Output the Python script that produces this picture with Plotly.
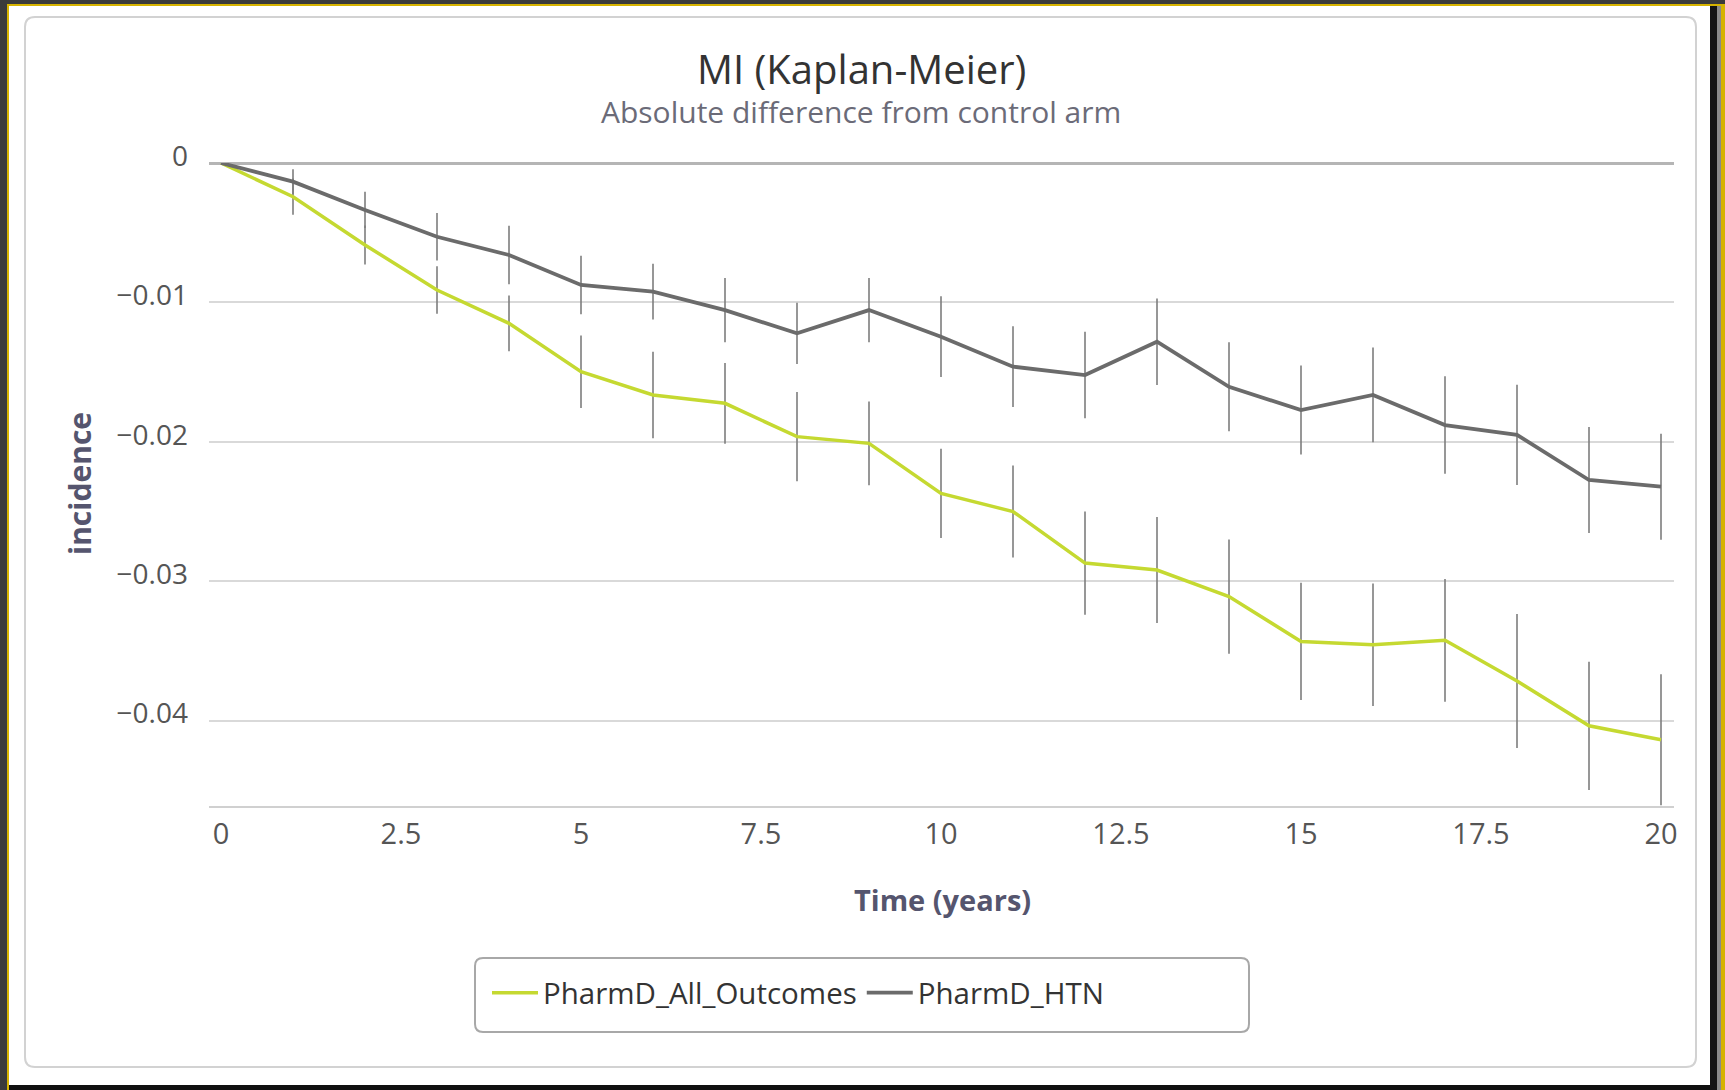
import plotly.graph_objects as go

# ---------------- data ----------------
years = list(range(21))
all_outcomes = [0, -0.00242, -0.00588, -0.00911, -0.0115, -0.01497, -0.01664, -0.01724,
                -0.01963, -0.02011, -0.0237, -0.025, -0.0287, -0.0292, -0.0311, -0.03432,
                -0.03456, -0.03424, -0.03716, -0.04037, -0.04137]
all_outcomes_err = [0, 0.0013, 0.0014, 0.0017, 0.002, 0.0026, 0.0031, 0.0029, 0.0032, 0.003,
                    0.0032, 0.0033, 0.0037, 0.0038, 0.0041, 0.0042, 0.0044, 0.0044, 0.0048,
                    0.0046, 0.0047]
htn = [0, -0.00134, -0.00337, -0.00529, -0.0066, -0.00875, -0.00923, -0.01055, -0.01222,
       -0.01055, -0.01246, -0.01461, -0.01521, -0.01282, -0.01605, -0.01772, -0.01664,
       -0.0188, -0.0195, -0.02274, -0.02322]
htn_err = [0, 0.0009, 0.0013, 0.0017, 0.0021, 0.0021, 0.002, 0.0023, 0.0022, 0.0023, 0.0029,
           0.0029, 0.0031, 0.0031, 0.0032, 0.0032, 0.0034, 0.0035, 0.0036, 0.0038, 0.0038]
series_names = ["PharmD_All_Outcomes", "PharmD_HTN"]
x_tickvals = [0, 2.5, 5, 7.5, 10, 12.5, 15, 17.5, 20]
x_ticktext = ["0", "2.5", "5", "7.5", "10", "12.5", "15", "17.5", "20"]
y_tickvals = [0, -0.01, -0.02, -0.03, -0.04]
y_ticktext = ["0", "\u22120.01", "\u22120.02", "\u22120.03", "\u22120.04"]
title_text = "MI (Kaplan-Meier)"
subtitle_text = "Absolute difference from control arm"
x_title = "Time (years)"
y_title = "incidence"

# ---------------- geometry ----------------
W, H = 1725, 1090
L, R, T, B = 209, 1674, 163, 806   # plot area in pixels
PW, PH = R - L, B - T


def px(x):
    return (x - L) / PW


def py(y):
    return (B - y) / PH


FONT = "Open Sans"
GREEN = "#c5d931"
GREY = "#6b6b6b"
ERR = "#7d7d7d"

fig = go.Figure()
fig.add_trace(go.Scatter(
    x=years, y=all_outcomes, name=series_names[0], mode="lines",
    line=dict(color=GREEN, width=3.5),
    error_y=dict(type="data", array=all_outcomes_err, visible=True, color=ERR,
                 thickness=1.6, width=0),
    cliponaxis=False,
))
fig.add_trace(go.Scatter(
    x=years, y=htn, name=series_names[1], mode="lines",
    line=dict(color=GREY, width=3.8),
    error_y=dict(type="data", array=htn_err, visible=True, color=ERR,
                 thickness=1.6, width=0),
    cliponaxis=False,
))


def rrect(x0, y0, x1, y1, r):
    rx = r / PW
    ry = r / PH
    X0, X1 = px(x0), px(x1)
    Y0, Y1 = py(y0), py(y1)  # Y0 top (larger), Y1 bottom
    return (f"M{X0+rx},{Y0} L{X1-rx},{Y0} Q{X1},{Y0} {X1},{Y0-ry} "
            f"L{X1},{Y1+ry} Q{X1},{Y1} {X1-rx},{Y1} L{X0+rx},{Y1} "
            f"Q{X0},{Y1} {X0},{Y1+ry} L{X0},{Y0-ry} Q{X0},{Y0} {X0+rx},{Y0} Z")


def rect(x0, y0, x1, y1, color):
    return dict(type="rect", xref="paper", yref="paper", layer="below",
                x0=px(x0), x1=px(x1), y0=py(y1), y1=py(y0),
                fillcolor=color, line=dict(width=0))


shapes = [
    # window frame
    rect(0, 0, W, 4, "#3b3b3b"),
    rect(0, 4, W, 6, "#d6b300"),
    rect(0, 0, 7, H, "#3b3b3b"),
    rect(7, 4, 9, H, "#d6b300"),
    rect(1710, 6, 1717, H, "#141414"),
    rect(1717, 6, 1721, H, "#8a8a8a"),
    rect(1721, 4, W, H, "#d6b300"),
    rect(9, 1085, 1710, H, "#101010"),
    # card
    dict(type="path", xref="paper", yref="paper", layer="below",
         path=rrect(25, 17, 1696, 1067, 10), fillcolor="white",
         line=dict(color="#d2d2d2", width=2)),
    # legend box
    dict(type="path", xref="paper", yref="paper", layer="below",
         path=rrect(475, 958, 1249, 1032, 8), fillcolor="rgba(0,0,0,0)",
         line=dict(color="#a8a8a8", width=2)),
]

annotations = [
    dict(text=title_text, x=px(861), y=py(69), xref="paper", yref="paper",
         showarrow=False, xanchor="center", yanchor="middle",
         font=dict(family=FONT, size=40, color="#333333")),
    dict(text=subtitle_text, x=px(861), y=py(111), xref="paper", yref="paper",
         showarrow=False, xanchor="center", yanchor="middle",
         font=dict(family=FONT, size=30, color="#6b6b78")),
    dict(text=x_title, x=px(942), y=py(900), xref="paper", yref="paper",
         showarrow=False, xanchor="center", yanchor="middle",
         font=dict(family=FONT, size=29, color="#55556e", weight=700)),
    dict(text=y_title, x=px(80), y=py(484), xref="paper", yref="paper",
         showarrow=False, xanchor="center", yanchor="middle", textangle=-90,
         font=dict(family=FONT, size=30, color="#55556e", weight=700)),
]

fig.update_layout(
    width=W, height=H,
    margin=dict(l=L, r=W - R, t=T, b=H - B, pad=0),
    paper_bgcolor="white", plot_bgcolor="rgba(0,0,0,0)",
    font=dict(family=FONT, color="#555555"),
    shapes=shapes, annotations=annotations,
    showlegend=True,
    legend=dict(orientation="h", x=px(487), y=py(993), xanchor="left", yanchor="middle",
                bgcolor="rgba(0,0,0,0)", borderwidth=0,
                font=dict(family=FONT, size=29.5, color="#333333"),
                itemwidth=46),
    xaxis=dict(range=[-12 / 72, (R - 221) / 72], tickvals=x_tickvals, ticktext=x_ticktext,
               showgrid=False, zeroline=False, showline=True, linecolor="#d0d0d0",
               linewidth=2, ticks="", tickfont=dict(family=FONT, size=29, color="#555555"),
               ticklabelstandoff=1),
    yaxis=dict(range=[-(B - T) / 13940, 0], tickvals=y_tickvals, ticktext=y_ticktext,
               showgrid=True, gridcolor="#d9d9d9", gridwidth=2,
               zeroline=True, zerolinecolor="#b5b5b5", zerolinewidth=3,
               showline=False, ticks="",
               tickfont=dict(family=FONT, size=28, color="#555555"),
               ticklabelstandoff=20, ticklabelshift=-7),
)

fig.write_html("out.html", post_script="document.body.style.margin='0';",
               config={"displayModeBar": False})
